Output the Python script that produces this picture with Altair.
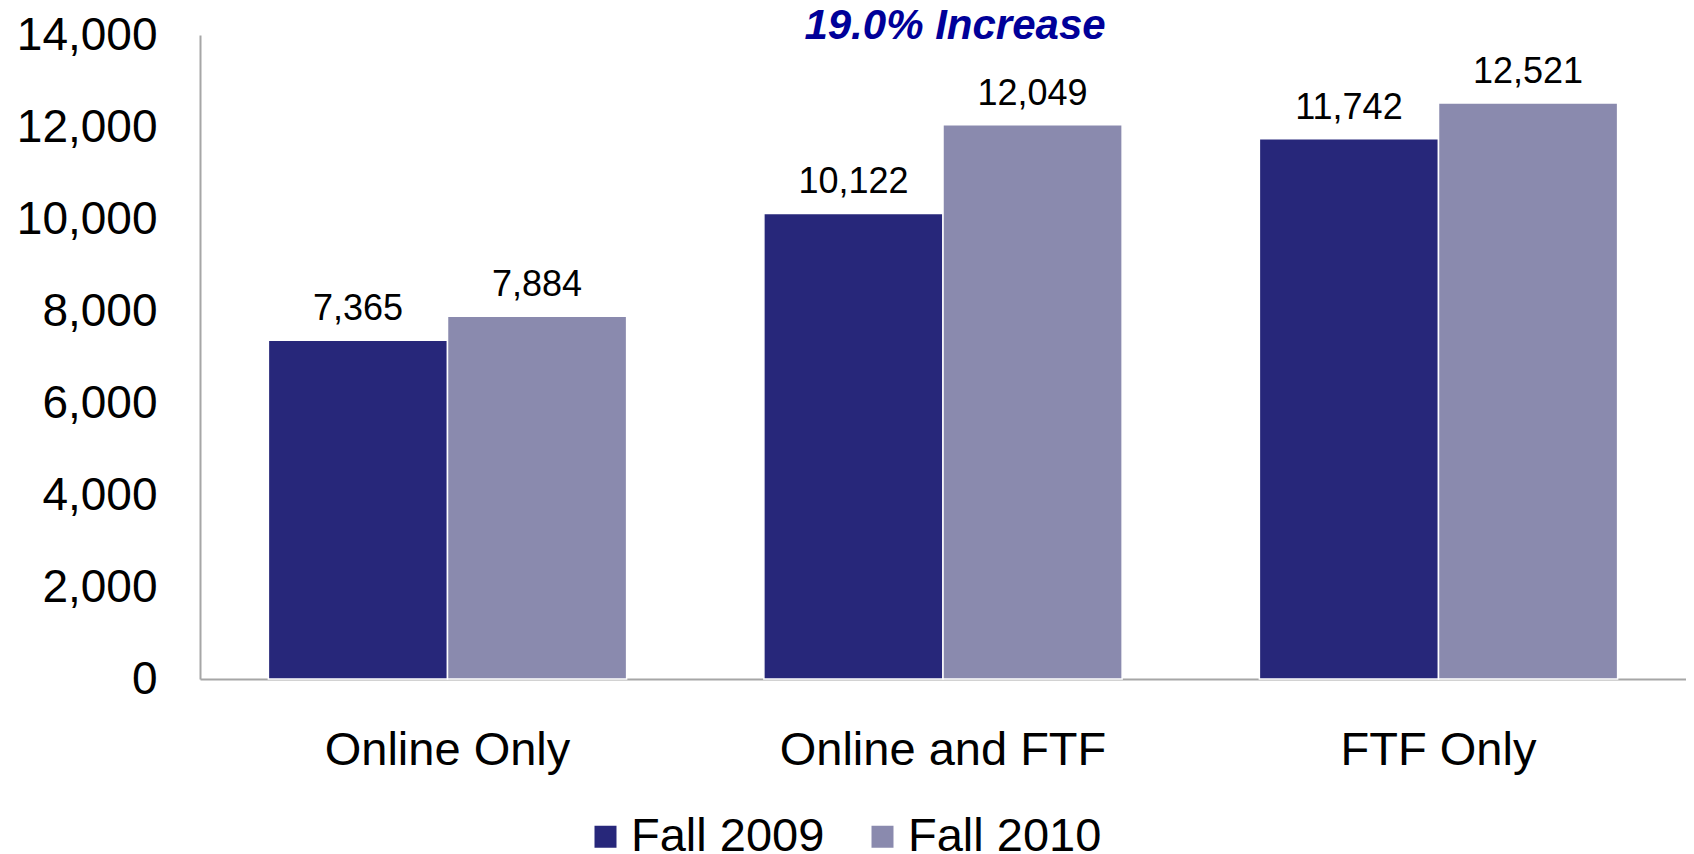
import altair as alt
import pandas as pd

FONT = "Liberation Sans"

categories = ["Online Only", "Online and FTF", "FTF Only"]
series = ["Fall 2009", "Fall 2010"]
fall_2009 = [7365, 10122, 11742]
fall_2010 = [7884, 12049, 12521]
colors = ["#27277A", "#8A8AAE"]
y_ticks = [0, 2000, 4000, 6000, 8000, 10000, 12000, 14000]
title_text = "19.0% Increase"

rows = []
for c, a, b in zip(categories, fall_2009, fall_2010):
    rows.append({"category": c, "series": series[0], "value": a})
    rows.append({"category": c, "series": series[1], "value": b})
df = pd.DataFrame(rows)

x_enc = alt.X(
    "category:N",
    sort=categories,
    scale=alt.Scale(paddingInner=0.277, paddingOuter=0.138),
    axis=alt.Axis(
        title=None, labelAngle=0, labelFontSize=47, labelFont=FONT,
        labelColor="black", labelPadding=48, ticks=False, tickSize=0,
        domainColor="#A6A6A6", domainWidth=2, labelLimit=500,
    ),
)
xo_enc = alt.XOffset("series:N", sort=series,
                     scale=alt.Scale(paddingInner=0, paddingOuter=0))

y_enc = alt.Y(
    "value:Q",
    scale=alt.Scale(domain=[0, 14000], nice=False),
    axis=alt.Axis(
        title=None, values=y_ticks, format=",.0f", labelFontSize=46,
        labelFont=FONT, labelColor="black", labelPadding=43,
        ticks=False, tickSize=0, grid=False,
        domainColor="#A6A6A6", domainWidth=2, labelLimit=500,
    ),
)

bars = alt.Chart(df).mark_bar(stroke="white", strokeWidth=1.5).encode(
    x=x_enc,
    xOffset=xo_enc,
    y=y_enc,
    color=alt.Color(
        "series:N",
        sort=series,
        scale=alt.Scale(domain=series, range=colors),
        legend=alt.Legend(
            title=None, orient="none", legendX=382, legendY=778,
            direction="horizontal", symbolType="square", symbolSize=484,
            symbolStrokeWidth=0, labelFontSize=47, labelFont=FONT,
            labelColor="black", labelOffset=2, columnPadding=34,
            labelLimit=400,
        ),
    ),
)

labels = alt.Chart(df).mark_text(
    baseline="alphabetic", dy=-20, fontSize=36, font=FONT, color="black"
).encode(
    x=x_enc,
    xOffset=xo_enc,
    y=y_enc,
    text=alt.Text("value:Q", format=","),
)

chart = alt.layer(bars, labels).properties(
    width=1486,
    height=644,
    autosize=alt.AutoSizeParams(type="none"),
    padding={"left": 192, "top": 27, "right": 0, "bottom": 173},
    title=alt.TitleParams(
        title_text, fontSize=42, fontWeight="bold", fontStyle="italic",
        color="#000099", font=FONT, anchor="middle", frame="group",
        offset=-69, dx=12, baseline="alphabetic",
    ),
).configure_view(stroke=None)

chart.save("out.html", embed_options={"renderer": "svg", "actions": False})
